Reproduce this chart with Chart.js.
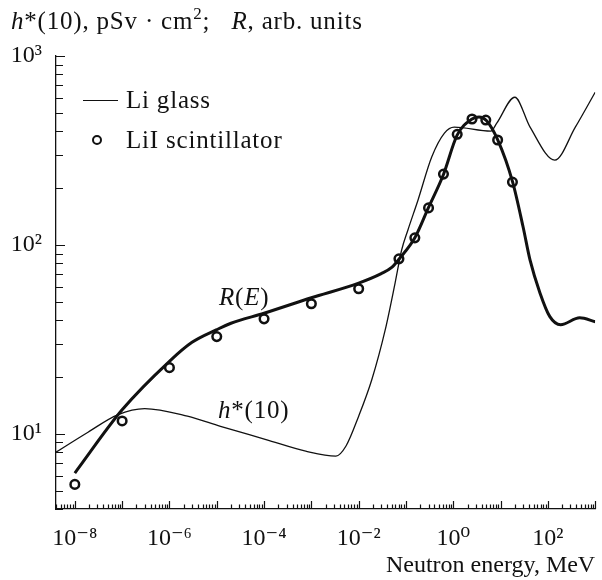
<!DOCTYPE html>
<html>
<head>
<meta charset="utf-8">
<script src="https://cdn.jsdelivr.net/npm/chart.js@4.4.1/dist/chart.umd.min.js"></script>
<style>
body { margin: 0; background: #fff; }
#wrap { position: relative; width: 602px; height: 580px; font-family: "Liberation Serif", "DejaVu Serif", serif; color: #111; }
.lbl { position: absolute; font-size: 25px; letter-spacing: 0.8px; white-space: nowrap; line-height: 26px; }
.lbl sup { font-size: 17px; line-height: 0; position: relative; top: -1px; }
#legLine { position: absolute; left: 83px; top: 100px; width: 35px; height: 0; border-top: 1.4px solid #111; }
#legDot { position: absolute; left: 92px; top: 135px; width: 6px; height: 6px; border: 2.5px solid #111; border-radius: 50%; }
</style>
</head>
<body>
<div id="wrap">
  <canvas id="chart" width="602" height="580"></canvas>
  <div class="lbl" style="left:11px; top:8px"><i>h</i>*(10), pSv · cm<sup>2</sup>;&nbsp;&nbsp; <i>R</i>, arb. units</div>
  <div id="legLine"></div>
  <div class="lbl" style="left:126px; top:87px">Li glass</div>
  <div id="legDot"></div>
  <div class="lbl" style="left:126px; top:127px">LiI scintillator</div>
  <div class="lbl" style="left:219px; top:284px"><i>R</i>(<i>E</i>)</div>
  <div class="lbl" style="left:218px; top:397px"><i>h</i>*(10)</div>
</div>
<script>
// LiI scintillator, measured points
var scintE = [1e-8, 1e-7, 1e-6, 1e-5, 1e-4, 1e-3, 1e-2, 0.071, 0.154, 0.30, 0.62, 1.21, 2.49, 4.87, 8.66, 17.8];
var scintR = [5.4, 11.7, 22.4, 32.7, 40.6, 48.8, 58.6, 84.4, 109, 157, 237, 385, 464, 458, 359, 215];

// Li glass response R(E)
var respE = [1e-8, 1e-7, 1e-6, 3e-6, 1e-5, 2e-5, 1e-4, 1e-3, 1e-2, 0.03, 0.05, 0.071, 0.154, 0.30, 0.62, 1.2, 2.5, 3.5, 5, 8.7, 18, 30, 42, 68, 110, 186, 470, 1000];
var respR = [6.2, 13.4, 24.2, 30.5, 35.6, 38.5, 43.5, 52.5, 62.8, 70.5, 76, 84, 109, 158, 236, 380, 464, 476, 456, 360, 215, 124, 83, 55.7, 41.7, 37.8, 41.1, 39.2];

// ambient dose conversion h*(10)
var doseE = [4e-9, 1.9e-8, 8e-8, 3e-7, 2.4e-6, 1.2e-5, 1.1e-4, 7.6e-4, 3.3e-3, 5.4e-3, 1e-2, 1.9e-2, 3.65e-2, 5.9e-2, 8.1e-2, 0.11, 0.18, 0.35, 0.65, 1.05, 6.2, 8.3, 20, 42, 140, 380, 1000];
var doseH = [8.0, 10.2, 12.6, 13.6, 12.4, 10.96, 9.33, 8.1, 7.62, 8.62, 12.4, 19.4, 35.6, 63, 94, 120, 173, 292, 391, 420, 400, 441, 605, 420, 281, 420, 643];

var xTickExps = [-8, -6, -4, -2, 0, 2];
var xTickLabels = ['10⁻⁸', '10⁻⁶', '10⁻⁴', '10⁻²', '10⁰', '10²'];
var yTickExps = [1, 2, 3];
var yTickLabels = ['10¹', '10²', '10³'];

function pairs(xs, ys) {
    return xs.map(function (x, i) { return {x: x, y: ys[i]}; });
}

function logTicks(lo, hi) {
    return function (scale) {
        var t = [];
        for (var p = -10; p <= 3; p++) {
            for (var m = 1; m < 10; m++) {
                var v = m * Math.pow(10, p);
                if (v >= lo * 0.999 && v <= hi * 1.001) t.push({value: v, major: m === 1});
            }
        }
        scale.ticks = t;
    };
}

function labelFor(exps, labels) {
    return function (value) {
        var e = Math.log10(value), r = Math.round(e);
        if (Math.abs(e - r) > 1e-6) return '';
        var i = exps.indexOf(r);
        return i < 0 ? '' : labels[i];
    };
}

// tick marks drawn inside the frame, like the original plot
var inwardTicks = {
    id: 'inwardTicks',
    afterDraw: function (chart) {
        var ctx = chart.ctx, a = chart.chartArea;
        ctx.save();
        ctx.strokeStyle = '#111';
        ctx.lineWidth = 1.2;
        ctx.beginPath();
        chart.scales.x.ticks.forEach(function (t) {
            var px = Math.round(chart.scales.x.getPixelForValue(t.value)) + 0.5;
            ctx.moveTo(px, a.bottom);
            ctx.lineTo(px, a.bottom - (t.major ? 8 : 4.5));
        });
        chart.scales.y.ticks.forEach(function (t) {
            var py = Math.round(chart.scales.y.getPixelForValue(t.value)) + 0.5;
            ctx.moveTo(a.left, py);
            ctx.lineTo(a.left + (t.major ? 9 : 7), py);
        });
        ctx.stroke();
        ctx.restore();
    }
};

var font = {family: '"Liberation Serif", "DejaVu Serif", serif', size: 24};

var chart = new Chart(document.getElementById('chart'), {
    type: 'line',
    data: {
        datasets: [{
            label: 'LiI scintillator',
            data: pairs(scintE, scintR),
            showLine: false,
            pointRadius: 4.3,
            pointBorderWidth: 2.5,
            pointBorderColor: '#111',
            pointBackgroundColor: 'rgba(255,255,255,0)',
            order: 0
        }, {
            label: 'R(E)',
            data: pairs(respE, respR),
            borderColor: '#111',
            borderWidth: 3,
            pointRadius: 0,
            cubicInterpolationMode: 'monotone',
            order: 1
        }, {
            label: 'h*(10)',
            data: pairs(doseE, doseH),
            borderColor: '#111',
            borderWidth: 1.3,
            pointRadius: 0,
            cubicInterpolationMode: 'monotone',
            order: 2
        }]
    },
    options: {
        responsive: false,
        animation: false,
        devicePixelRatio: 1,
        layout: {padding: {top: 56, right: 0, left: 0, bottom: 0}},
        plugins: {legend: {display: false}, tooltip: {enabled: false}},
        scales: {
            x: {
                type: 'logarithmic',
                min: 4e-9,
                max: 1e3,
                grid: {display: false},
                border: {display: true, color: '#111', width: 1.3},
                afterBuildTicks: logTicks(4e-9, 1e3),
                afterFit: function (s) { s.height = 71; s.paddingLeft = 0; s.paddingRight = 0; },
                ticks: {
                    autoSkip: false, maxRotation: 0, padding: 7,
                    color: '#111', font: font,
                    callback: labelFor(xTickExps, xTickLabels)
                },
                title: {
                    display: true, text: 'Neutron energy, MeV', align: 'end',
                    color: '#111', font: font, padding: {top: 0, bottom: 0, right: 6}
                }
            },
            y: {
                type: 'logarithmic',
                min: 4,
                max: 1e3,
                grid: {display: false},
                border: {display: true, color: '#111', width: 1.3},
                afterBuildTicks: logTicks(4, 1e3),
                afterFit: function (s) { s.width = 56; s.paddingTop = 0; s.paddingBottom = 0; },
                ticks: {
                    autoSkip: false, padding: 6,
                    color: '#111', font: font,
                    callback: labelFor(yTickExps, yTickLabels)
                }
            }
        }
    },
    plugins: [inwardTicks]
});
</script>
</body>
</html>
